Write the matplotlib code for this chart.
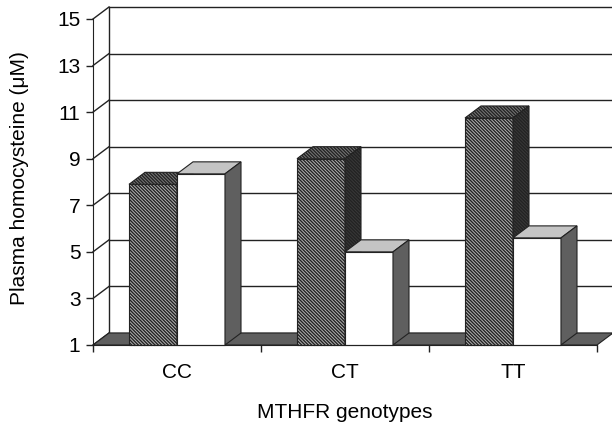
import matplotlib
matplotlib.use("Agg")
import matplotlib.pyplot as plt
from matplotlib.patches import Polygon

plt.rcParams["font.family"] = ["Liberation Sans", "DejaVu Sans"]
plt.rcParams["hatch.linewidth"] = 1.0
plt.rcParams["hatch.color"] = "black"

# ---- data ----
genotypes = ["CC", "CT", "TT"]
hatched_vals = [7.9, 9.0, 10.75]
white_vals = [8.35, 5.0, 5.6]
yticks = [1, 3, 5, 7, 9, 11, 13, 15]

# ---- figure / front plane ----
W, H = 612, 424
fig = plt.figure(figsize=(W / 100, H / 100), dpi=100)
ax = fig.add_axes([93 / W, (H - 345) / H, 504 / W, 326 / H])
ax.set_xlim(0, 3)
ax.set_ylim(1, 15)
ax.patch.set_alpha(0)

# depth offset of the back plane, in pixels -> data units
DEPTH_PX = (16, 12)
ddx = DEPTH_PX[0] * 3 / 504
ddy = DEPTH_PX[1] * 14 / 326

edge = "#222222"


def poly(pts, **kw):
    p = Polygon(pts, closed=True, clip_on=False, **kw)
    ax.add_patch(p)


# back wall gridlines and left wall
for v in yticks:
    ax.plot([ddx, 3 + ddx], [v + ddy, v + ddy], color=edge, lw=1.0, clip_on=False, zorder=1)
    ax.plot([0, ddx], [v, v + ddy], color=edge, lw=1.0, clip_on=False, zorder=1)
ax.plot([ddx, ddx], [1 + ddy, 15 + ddy], color=edge, lw=1.0, clip_on=False, zorder=1)

# floor
poly([(0, 1), (3, 1), (3 + ddx, 1 + ddy), (ddx, 1 + ddy)],
     facecolor="#5f5f5f", edgecolor=edge, lw=0.8, zorder=2)


def bar3d(x0, w, v, front, top, side, hatch=None):
    poly([(x0, 1), (x0 + w, 1), (x0 + w, v), (x0, v)],
         facecolor=front, edgecolor=edge, lw=0.8, hatch=hatch, zorder=3)
    poly([(x0, v), (x0 + w, v), (x0 + w + ddx, v + ddy), (x0 + ddx, v + ddy)],
         facecolor=top, edgecolor=edge, lw=0.8, hatch=hatch, zorder=3)
    poly([(x0 + w, 1), (x0 + w + ddx, 1 + ddy), (x0 + w + ddx, v + ddy), (x0 + w, v)],
         facecolor=side, edgecolor=edge, lw=0.8, hatch=hatch, zorder=3)


bw = 48 / 168
for i in range(len(genotypes)):
    c = i + 0.5
    bar3d(c - bw, bw, hatched_vals[i], "#b4b4b4", "#7a7a7a", "#3a3a3a", hatch="\\" * 10)
    bar3d(c, bw, white_vals[i], "white", "#c4c4c4", "#5f5f5f")

# axes styling
for s in ["top", "right"]:
    ax.spines[s].set_visible(False)
ax.spines["left"].set_color(edge)
ax.spines["bottom"].set_color(edge)
ax.spines["left"].set_zorder(4)
ax.spines["bottom"].set_zorder(4)
ax.set_yticks(yticks)
ax.tick_params(axis="y", length=5, width=1, color=edge, labelsize=15, pad=4)
ax.set_xticks([0, 1, 2, 3])
ax.set_xticklabels([])
ax.set_xticks([0.5, 1.5, 2.5], minor=True)
ax.set_xticklabels(genotypes, minor=True)
ax.tick_params(axis="x", which="major", length=5, width=1, color=edge)
ax.tick_params(axis="x", which="minor", length=0, labelsize=15, pad=13)

fig.text(20 / W, 1 - 178 / H, "Plasma homocysteine (\u03bcM)", rotation=90,
         ha="center", va="center", fontsize=15)
fig.text(345 / W, 1 - 418 / H, "MTHFR genotypes", ha="center", va="baseline", fontsize=15)

fig.savefig("out.png", dpi=100)
